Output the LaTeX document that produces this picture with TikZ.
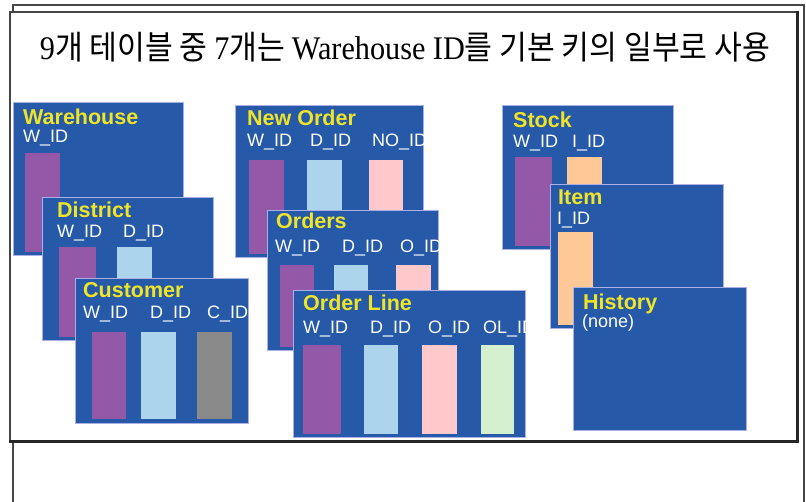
\documentclass[tikz,border=0pt]{standalone}
\usepackage{fontspec}
\usepackage{graphicx}
\setmainfont{Liberation Sans}
\newfontfamily\krfont{Noto Sans CJK KR}
\newfontfamily\serfont{Liberation Serif}
\usetikzlibrary{fit}
\definecolor{tblue}{RGB}{38,90,168}
\definecolor{tedge}{RGB}{170,175,230}
\definecolor{tyellow}{RGB}{240,228,40}
\definecolor{cpurple}{RGB}{148,88,168}
\definecolor{clblue}{RGB}{172,212,236}
\definecolor{cpink}{RGB}{255,200,202}
\definecolor{cgray}{RGB}{138,138,138}
\definecolor{cgreen}{RGB}{212,240,206}
\definecolor{cpeach}{RGB}{255,200,150}
\definecolor{frame}{RGB}{70,70,70}
\begin{document}
\begin{tikzpicture}[x=1pt,y=-1pt,
  tbox/.style={draw=tedge, line width=0.8pt, fill=tblue, inner sep=0pt},
  ttl/.style={text=tyellow, font=\bfseries\fontsize{21.5}{21.5}\selectfont, anchor=base west, inner sep=0pt},
  lbl/.style={text=white, font=\fontsize{18}{18}\selectfont, anchor=base west, inner sep=0pt},
  bar/.style={inner sep=0pt, draw=none}]
\useasboundingbox (0,0) rectangle (806,502);
\fill[white] (0,0) rectangle (806,502);
% outer frame
\draw[frame, line width=1.6pt] (13,510) -- (13,5) -- (804,5) -- (804,510);
% inner frame
\node[fill=white, draw=frame, line width=1.4pt, inner sep=0pt, fit={(10,12) (797,441)}] (panel) {};
\draw[black!85, line width=2.6pt] (panel.south west) -- (panel.south east) -- (panel.north east);
% title
\node (title) at (405,47) {\resizebox{730pt}{\height}{\fontsize{33}{33}\selectfont{\serfont 9}{\krfont 개 테이블 중 }{\serfont 7}{\krfont 개는 }{\serfont Warehouse ID}{\krfont 를 기본 키의 일부로 사용}}};

% ---------- Warehouse
\node[tbox, fit={(13,102) (183,255)}] (wh) {};
\begin{scope}
\clip (wh.south west) rectangle (wh.north east);
\node[ttl] (wht) at (23,125) {Warehouse};
\node[lbl] (whl1) at (23,143) {W\_ID};
\node[bar, fill=cpurple, fit={(25,153) (60,252)}] (whb1) {};
\end{scope}
% ---------- District
\node[tbox, fit={(42,197) (213,340)}] (di) {};
\begin{scope}
\clip (di.south west) rectangle (di.north east);
\node[ttl] (dit) at (57,218) {District};
\node[lbl] (dil1) at (57,238) {W\_ID};
\node[lbl] (dil2) at (123,238) {D\_ID};
\node[bar, fill=cpurple, fit={(59,247) (96,337)}] (dib1) {};
\node[bar, fill=clblue, fit={(117,247) (152,337)}] (dib2) {};
\end{scope}
% ---------- Customer
\node[tbox, fit={(75,278) (248,423)}] (cu) {};
\begin{scope}
\clip (cu.south west) rectangle (cu.north east);
\node[ttl] (cut) at (83,298) {Customer};
\node[lbl] (cul1) at (83,319) {W\_ID};
\node[lbl] (cul2) at (150,319) {D\_ID};
\node[lbl] (cul3) at (207,319) {C\_ID};
\node[bar, fill=cpurple, fit={(92,332) (126,419)}] (cub1) {};
\node[bar, fill=clblue, fit={(141,332) (176,419)}] (cub2) {};
\node[bar, fill=cgray, fit={(197,332) (232,419)}] (cub3) {};
\end{scope}
% ---------- New Order
\node[tbox, fit={(235,105) (423,257)}] (no) {};
\begin{scope}
\clip (no.south west) rectangle (no.north east);
\node[ttl] (not) at (247,126) {New Order};
\node[lbl] (nol1) at (247,147) {W\_ID};
\node[lbl] (nol2) at (310,147) {D\_ID};
\node[lbl] (nol3) at (372,147) {NO\_ID};
\node[bar, fill=cpurple, fit={(249,160) (284,254)}] (nob1) {};
\node[bar, fill=clblue, fit={(307,160) (342,254)}] (nob2) {};
\node[bar, fill=cpink, fit={(369,160) (403,254)}] (nob3) {};
\end{scope}
% ---------- Orders
\node[tbox, fit={(267,210) (438,350)}] (or) {};
\begin{scope}
\clip (or.south west) rectangle (or.north east);
\node[ttl] (ort) at (276,229) {Orders};
\node[lbl] (orl1) at (275,253) {W\_ID};
\node[lbl] (orl2) at (342,253) {D\_ID};
\node[lbl] (orl3) at (400,253) {O\_ID};
\node[bar, fill=cpurple, fit={(280,265) (314,347)}] (orb1) {};
\node[bar, fill=clblue, fit={(334,265) (368,347)}] (orb2) {};
\node[bar, fill=cpink, fit={(396,265) (431,347)}] (orb3) {};
\end{scope}
% ---------- Order Line
\node[tbox, fit={(293,290) (525,437)}] (ol) {};
\begin{scope}
\clip (ol.south west) rectangle (ol.north east);
\node[ttl] (olt) at (303,311) {Order Line};
\node[lbl] (oll1) at (303,334) {W\_ID};
\node[lbl] (oll2) at (370,334) {D\_ID};
\node[lbl] (oll3) at (428,334) {O\_ID};
\node[lbl] (oll4) at (483,334) {OL\_ID};
\node[bar, fill=cpurple, fit={(303,345) (341,434)}] (olb1) {};
\node[bar, fill=clblue, fit={(364,345) (398,434)}] (olb2) {};
\node[bar, fill=cpink, fit={(422,345) (457,434)}] (olb3) {};
\node[bar, fill=cgreen, fit={(481,345) (514,434)}] (olb4) {};
\end{scope}
% ---------- Stock
\node[tbox, fit={(502,105) (673,249)}] (st) {};
\begin{scope}
\clip (st.south west) rectangle (st.north east);
\node[ttl] (stt) at (513,128) {Stock};
\node[lbl] (stl1) at (513,148) {W\_ID};
\node[lbl] (stl2) at (572,148) {I\_ID};
\node[bar, fill=cpurple, fit={(515,157) (552,246)}] (stb1) {};
\node[bar, fill=cpeach, fit={(567,157) (602,246)}] (stb2) {};
\end{scope}
% ---------- Item
\node[tbox, fit={(550,184) (723,328)}] (it) {};
\begin{scope}
\clip (it.south west) rectangle (it.north east);
\node[ttl] (itt) at (558,205) {Item};
\node[lbl] (itl1) at (557,225) {I\_ID};
\node[bar, fill=cpeach, fit={(558,232) (593,325)}] (itb1) {};
\end{scope}
% ---------- History
\node[tbox, fit={(573,287) (746,430)}] (hi) {};
\node[ttl] (hit) at (583,310) {History};
\node[lbl] (hil1) at (582,328) {(none)};
\end{tikzpicture}
\end{document}
